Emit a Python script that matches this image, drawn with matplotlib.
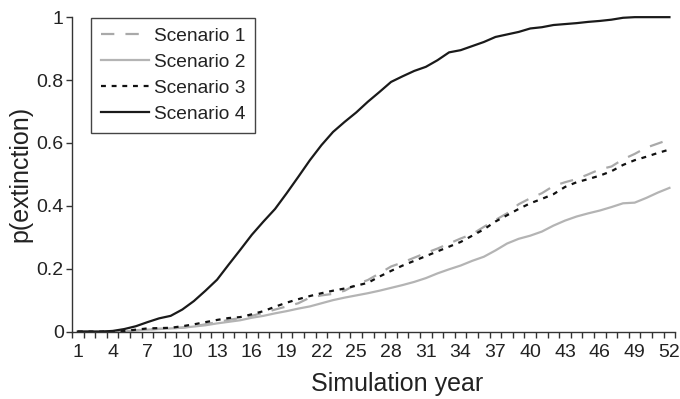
import matplotlib.pyplot as plt
import matplotlib as mpl
import numpy as np

mpl.rcParams['font.family'] = 'Liberation Sans'
mpl.rcParams['font.size'] = 14.0

# extinction probability per simulation year
years = np.arange(1, 53)
scen1 = [0, 0, 0, 0, 0, 0.004, 0.007, 0.009, 0.010, 0.013,
         0.017, 0.023, 0.030, 0.037, 0.043, 0.050, 0.060, 0.070, 0.080, 0.090,
         0.108, 0.115, 0.120, 0.130, 0.150, 0.164, 0.185, 0.207, 0.220, 0.235,
         0.250, 0.264, 0.280, 0.296, 0.310, 0.333, 0.355, 0.376, 0.405, 0.424,
         0.440, 0.463, 0.475, 0.485, 0.500, 0.516, 0.525, 0.548, 0.565, 0.585,
         0.598, 0.611]
scen2 = [0, 0, 0, 0, 0, 0.004, 0.006, 0.008, 0.010, 0.012,
         0.016, 0.020, 0.026, 0.031, 0.036, 0.044, 0.050, 0.058, 0.065, 0.073,
         0.080, 0.090, 0.100, 0.108, 0.115, 0.122, 0.130, 0.139, 0.148, 0.158,
         0.170, 0.185, 0.198, 0.210, 0.225, 0.238, 0.258, 0.280, 0.295, 0.305,
         0.318, 0.337, 0.353, 0.366, 0.376, 0.385, 0.396, 0.408, 0.410, 0.425,
         0.442, 0.457]
scen3 = [0, 0, 0, 0, 0.002, 0.006, 0.010, 0.011, 0.012, 0.017,
         0.023, 0.030, 0.037, 0.043, 0.046, 0.055, 0.065, 0.079, 0.092, 0.103,
         0.113, 0.122, 0.130, 0.137, 0.146, 0.155, 0.175, 0.193, 0.210, 0.225,
         0.240, 0.255, 0.270, 0.285, 0.305, 0.325, 0.350, 0.370, 0.390, 0.408,
         0.422, 0.437, 0.460, 0.475, 0.485, 0.496, 0.510, 0.530, 0.545, 0.556,
         0.568, 0.579]
scen4 = [0, 0, 0, 0.002, 0.008, 0.017, 0.030, 0.042, 0.050, 0.070,
         0.097, 0.130, 0.165, 0.213, 0.260, 0.308, 0.350, 0.390, 0.440, 0.492,
         0.545, 0.593, 0.635, 0.667, 0.697, 0.731, 0.762, 0.794, 0.812, 0.829,
         0.842, 0.863, 0.888, 0.895, 0.908, 0.921, 0.937, 0.945, 0.953, 0.964,
         0.968, 0.975, 0.978, 0.981, 0.985, 0.988, 0.992, 0.998, 1.0, 1.0,
         1.0, 1.0]

fig = plt.figure(figsize=(6.8, 3.99), dpi=100)
ax = fig.add_axes([0.106, 0.169, 0.887, 0.788])

ax.plot(years, scen1, color='#a9a9a9', lw=1.6, linestyle=(0, (6, 5)), label='Scenario 1', clip_on=False)
ax.plot(years, scen2, color='#b4b4b4', lw=1.6, label='Scenario 2', clip_on=False)
ax.plot(years, scen3, color='#111111', lw=1.6, linestyle=(0, (2.2, 2.6)), label='Scenario 3', clip_on=False)
ax.plot(years, scen4, color='#1a1a1a', lw=1.6, label='Scenario 4', clip_on=False)

ax.set_xlim(0.5, 52.5)
ax.set_ylim(0, 1)
for s in ['top', 'right']:
    ax.spines[s].set_visible(False)
for s in ['left', 'bottom']:
    ax.spines[s].set_color('#333333')
    ax.spines[s].set_linewidth(1.0)

# category axis: marks between years, labels every third year
ax.set_xticks(years[::3])
ax.set_xticklabels([str(y) for y in years[::3]])
ax.set_xticks(np.arange(0.5, 53, 1), minor=True)
ax.tick_params(axis='x', which='major', length=0, pad=9, labelsize=14, colors='#222222')
ax.tick_params(axis='x', which='minor', length=4, width=1, direction='out', color='#333333')

ax.set_yticks([0, 0.2, 0.4, 0.6, 0.8, 1.0])
ax.set_yticklabels(['0', '0.2', '0.4', '0.6', '0.8', '1'])
ax.tick_params(axis='y', length=4, width=1, direction='out', pad=2, labelsize=14, colors='#222222')
ax.tick_params(axis='y', color='#333333')

ax.set_xlabel('Simulation year', fontsize=18, color='#222222', labelpad=8, x=0.539)
ax.set_ylabel('p(extinction)', fontsize=18, color='#222222', labelpad=3)

leg = ax.legend(loc='upper left', bbox_to_anchor=(91 / 680, 1 - 18 / 399),
                bbox_transform=fig.transFigure, borderaxespad=0,
                fontsize=13.8, handlelength=2.5, handletextpad=0.3,
                labelspacing=0.45, borderpad=0.5, fancybox=False, framealpha=1)
leg.get_frame().set_edgecolor('#444444')
leg.get_frame().set_linewidth(1.0)
for t in leg.get_texts():
    t.set_color('#222222')

fig.savefig('out.png', dpi=100)
